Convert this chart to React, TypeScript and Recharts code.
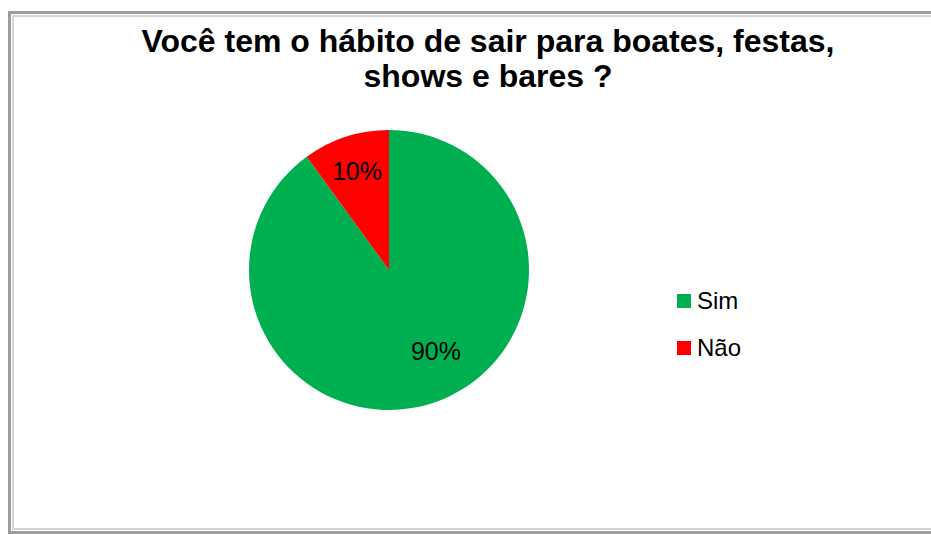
import React from 'react'
import { PieChart, Pie, Cell } from 'recharts'

const categories = ['Sim', 'Não']
const shares = [90, 10]
const colors = ['#00B050', '#FF0000']

const TITLE_LINES = ['Você tem o hábito de sair para boates, festas,', 'shows e bares ?']

const FONT = 'Arial, "Liberation Sans", sans-serif'

const chartData = categories.map((name, i) => ({
  name,
  value: shares[i],
  color: colors[i],
}))

const RADIAN = Math.PI / 180

// Excel "best fit" style: small slice centred on its mid angle,
// the big one pushed a bit round toward the lower right
const renderLabel = ({ cx, cy, midAngle, outerRadius, percent }: any) => {
  const big = percent > 0.5
  const angle = big ? midAngle + 12 : midAngle
  const r = outerRadius * (big ? 0.67 : 0.74)
  const x = cx + r * Math.cos(-angle * RADIAN)
  const y = cy + r * Math.sin(-angle * RADIAN)
  return (
    <text
      x={x}
      y={y}
      fill="#000"
      textAnchor="middle"
      dominantBaseline="central"
      fontFamily={FONT}
      fontSize={25}
    >
      {`${Math.round(percent * 100)}%`}
    </text>
  )
}

const CustomLegend = ({ payload }: any) => (
  <div style={{ fontFamily: FONT }}>
    {payload.map((entry: any, index: number) => (
      <div
        key={index}
        style={{ display: 'flex', alignItems: 'center', height: 47 }}
      >
        <div
          style={{
            width: 14,
            height: 14,
            backgroundColor: entry.color,
            marginRight: 6,
          }}
        />
        <span style={{ fontSize: 24, color: '#000' }}>{entry.value}</span>
      </div>
    ))}
  </div>
)

export default function App() {
  return (
    <div
      style={{
        position: 'absolute',
        left: 0,
        top: 0,
        width: 931,
        height: 534,
        overflow: 'hidden',
        background: '#fff',
      }}
    >
      {/* double grey frame */}
      <div
        style={{
          position: 'absolute',
          left: 8,
          top: 11,
          width: 960,
          height: 523,
          border: '3px solid #9c9c9c',
          boxSizing: 'border-box',
        }}
      />
      <div
        style={{
          position: 'absolute',
          left: 12,
          top: 15,
          width: 960,
          height: 515,
          border: '2px solid #d4d4d4',
          boxSizing: 'border-box',
        }}
      />
      <div
        style={{
          position: 'absolute',
          left: 0,
          top: 24,
          width: 976,
          textAlign: 'center',
          fontFamily: FONT,
          fontWeight: 'bold',
          fontSize: 32,
          lineHeight: '35px',
          color: '#000',
        }}
      >
        {TITLE_LINES.map((line) => (
          <div key={line}>{line}</div>
        ))}
      </div>
      <div style={{ position: 'absolute', left: 0, top: 0 }}>
        <PieChart width={931} height={534} margin={{ top: 0, right: 0, bottom: 0, left: 0 }}>
          <Pie
            data={chartData}
            dataKey="value"
            nameKey="name"
            cx={389}
            cy={270}
            outerRadius={140}
            startAngle={90}
            endAngle={-270}
            stroke="none"
            labelLine={false}
            label={renderLabel}
            isAnimationActive={false}
          >
            {chartData.map((entry, index) => (
              <Cell key={`cell-${index}`} fill={entry.color} />
            ))}
          </Pie>
        </PieChart>
      </div>
      <div style={{ position: 'absolute', left: 677, top: 277, width: 120 }}>
        <CustomLegend
          payload={chartData.map((item) => ({
            value: item.name,
            color: item.color,
          }))}
        />
      </div>
    </div>
  )
}
